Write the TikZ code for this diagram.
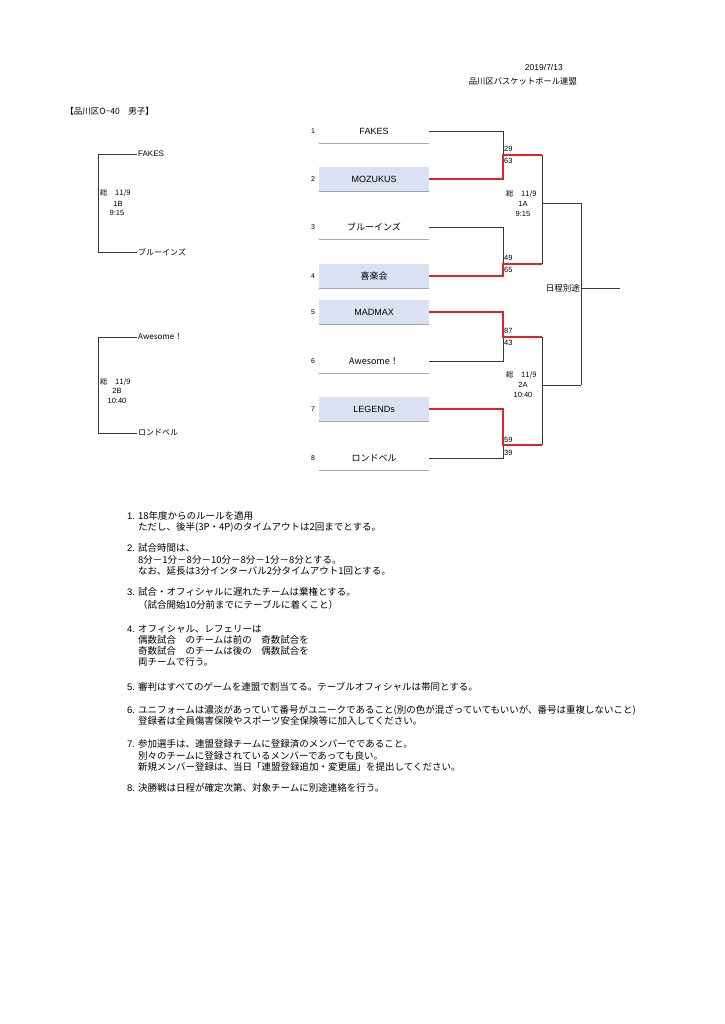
\documentclass[tikz,border=0pt]{standalone}
\usepackage{fontspec}
\setmainfont{Liberation Sans}
\newfontfamily\jp{Noto Sans CJK JP}
\definecolor{shade}{RGB}{217,225,242}
\definecolor{winred}{RGB}{228,32,40}
\definecolor{ulgray}{RGB}{165,165,165}
\definecolor{brkcol}{RGB}{55,55,55}
\newcommand\nl[3]{\node[noteline] (#1) at (138,#2) {\jp #3};}
\newcommand\nn[3]{\node[notenum] (#1) at (127,#2) {#3};}
\begin{document}
\begin{tikzpicture}[x=1pt,y=-1pt,
  teambox/.style={rectangle,minimum width=110pt,minimum height=24pt,inner sep=0pt,font=\fontsize{9}{10}\selectfont},
  seeded/.style={teambox,fill=shade},
  uline/.style={draw=ulgray,line width=1.1pt},
  brk/.style={draw=brkcol,line width=0.8pt},
  win/.style={draw=winred,line width=1.3pt},
  num/.style={inner sep=0pt,font=\fontsize{7}{8}\selectfont},
  lname/.style={anchor=west,inner sep=1pt,font=\fontsize{8}{9}\selectfont},
  info/.style={inner sep=0pt,font=\fontsize{7.5}{8}\selectfont},
  score/.style={anchor=west,inner sep=0pt,font=\fontsize{7.5}{8}\selectfont},
  noteline/.style={anchor=base west,inner sep=0pt,font=\fontsize{9.5}{11}\selectfont},
  notenum/.style={anchor=base west,inner sep=0pt,font=\fontsize{9.5}{11}\selectfont}]
\useasboundingbox (0,0) rectangle (724,1024);
\fill[white] (0,0) rectangle (724,1024);
% header
\node[anchor=east,inner sep=0pt,font=\fontsize{8.5}{9}\selectfont] (date) at (563,67) {2019/7/13};
\node[anchor=east,inner sep=0pt,font=\fontsize{8.3}{9}\selectfont] (org) at (577,81) {\jp 品川区バスケットボール連盟};
\node[anchor=east,inner sep=0pt,font=\fontsize{8.5}{9}\selectfont] (title) at (154,111) {\jp 【品川区O−40　男子】};
% teams
\node[teambox] (t1) at (374,131) {FAKES};
\node[seeded]  (t2) at (374,179) {MOZUKUS};
\node[teambox] (t3) at (374,227) {\jp ブルーインズ};
\node[seeded]  (t4) at (374,276) {\jp 喜楽会};
\node[seeded]  (t5) at (374,312) {MADMAX};
\node[teambox] (t6) at (374,361) {\jp Awesome！};
\node[seeded]  (t7) at (374,409) {LEGENDs};
\node[teambox] (t8) at (374,458) {\jp ロンドベル};
\foreach \i in {1,...,8} {\draw[uline] (t\i.south west) -- (t\i.south east);}
\node[num] (n1) at (313,131) {1};
\node[num] (n2) at (313,179) {2};
\node[num] (n3) at (313,227) {3};
\node[num] (n4) at (313,276) {4};
\node[num] (n5) at (313,312) {5};
\node[num] (n6) at (313,361) {6};
\node[num] (n7) at (313,409) {7};
\node[num] (n8) at (313,458) {8};
% bracket junctions
\coordinate (g1) at (503,155);
\coordinate (g2) at (503,264);
\coordinate (g3) at (503,337);
\coordinate (g4) at (503,445);
\coordinate (s1) at (542,203);
\coordinate (s2) at (542,385);
\coordinate (fj) at (581,288);
\coordinate (fend) at (620,288);
% losers / pending (black)
\draw[brk] (t1.east) -| (g1);
\draw[brk] (t3.east) -| (g2);
\draw[brk] (t6.east) -| (g3);
\draw[brk] (t8.east) -| (g4);
\draw[brk] (g1 -| s1) -- (g2 -| s1);
\draw[brk] (g3 -| s1) -- (g4 -| s1);
\draw[brk] (s1) -- (s1 -| fj);
\draw[brk] (s2) -- (s2 -| fj);
\draw[brk] (s1 -| fj) -- (s2 -| fj);
\draw[brk] (fj) -- (fend);
% winners (red)
\draw[win] (t2.east) -| (g1) -- (g1 -| s1);
\draw[win] (t4.east) -| (g2) -- (g2 -| s1);
\draw[win] (t5.east) -| (g3) -- (g3 -| s1);
\draw[win] (t7.east) -| (g4) -- (g4 -| s1);
% scores
\node[score] (sc1) at (504,149) {29};
\node[score] (sc2) at (504,161) {63};
\node[score] (sc3) at (504,258) {49};
\node[score] (sc4) at (504,270) {65};
\node[score] (sc5) at (504,331) {87};
\node[score] (sc6) at (504,343) {43};
\node[score] (sc7) at (504,440) {59};
\node[score] (sc8) at (504,453) {39};
% right match info
\node[info,anchor=west] (r1a) at (506,194) {\jp 総　11/9};
\node[info] (r1b) at (523,204) {1A};
\node[info] (r1c) at (523,214) {9:15};
\node[info,anchor=west] (r2a) at (506,375) {\jp 総　11/9};
\node[info] (r2b) at (523,385) {2A};
\node[info] (r2c) at (523,395) {10:40};
\node[anchor=east,inner sep=0pt,font=\fontsize{8.5}{9}\selectfont] (final) at (580,288) {\jp 日程別途};
% left bracket
\node[lname] (l1) at (137,154) {FAKES};
\node[lname] (l2) at (137,252) {\jp ブルーインズ};
\node[lname] (l3) at (137,337) {\jp Awesome！};
\node[lname] (l4) at (137,433) {\jp ロンドベル};
\coordinate (lc) at (98,0);
\draw[brk] (l1.west) -- (l1.west -| lc) -- (l2.west -| lc) -- (l2.west);
\draw[brk] (l3.west) -- (l3.west -| lc) -- (l4.west -| lc) -- (l4.west);
\node[info,anchor=west] (i1a) at (100,193) {\jp 総　11/9};
\node[info] (i1b) at (118,204) {1B};
\node[info] (i1c) at (117,213) {9:15};
\node[info,anchor=west] (i2a) at (100,382) {\jp 総　11/9};
\node[info] (i2b) at (117,391) {2B};
\node[info] (i2c) at (117,401) {10:40};
% notes
\nn{m1}{519.5}{1.}
\nl{a1}{519.5}{18年度からのルールを適用}
\nl{a2}{530.5}{ただし、後半(3P・4P)のタイムアウトは2回までとする。}
\nn{m2}{551.5}{2.}
\nl{b1}{551.5}{試合時間は、}
\nl{b2}{563.5}{8分－1分－8分－10分－8分－1分－8分とする。}
\nl{b3}{574.5}{なお、延長は3分インターバル2分タイムアウト1回とする。}
\nn{m3}{595.5}{3.}
\nl{c1}{595.5}{試合・オフィシャルに遅れたチームは棄権とする。}
\nl{c2}{608.5}{（試合開始10分前までにテーブルに着くこと）}
\nn{m4}{632.5}{4.}
\nl{d1}{632.5}{オフィシャル、レフェリーは}
\nl{d2}{643.5}{偶数試合　のチームは前の　奇数試合を}
\nl{d3}{654.5}{奇数試合　のチームは後の　偶数試合を}
\nl{d4}{665.5}{両チームで行う。}
\nn{m5}{690.5}{5.}
\nl{e1}{690.5}{審判はすべてのゲームを連盟で割当てる。テーブルオフィシャルは帯同とする。}
\nn{m6}{713.5}{6.}
\nl{f1}{713.5}{ユニフォームは濃淡があっていて番号がユニークであること(別の色が混ざっていてもいいが、番号は重複しないこと)}
\nl{f2}{724.5}{登録者は全員傷害保険やスポーツ安全保険等に加入してください。}
\nn{m7}{747.5}{7.}
\nl{h1}{747.5}{参加選手は、連盟登録チームに登録済のメンバーでであること。}
\nl{h2}{759.5}{別々のチームに登録されているメンバーであっても良い。}
\nl{h3}{770.5}{新規メンバー登録は、当日「連盟登録追加・変更届」を提出してください。}
\nn{m8}{791.5}{8.}
\nl{k1}{791.5}{決勝戦は日程が確定次第、対象チームに別途連絡を行う。}
\end{tikzpicture}
\end{document}
